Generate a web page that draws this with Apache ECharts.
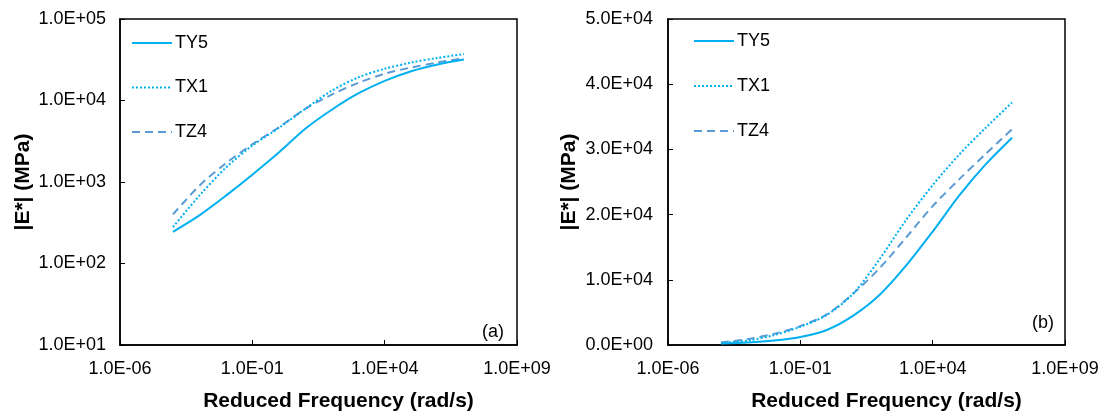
<!DOCTYPE html>
<html><head><meta charset="utf-8">
<script src="https://cdn.jsdelivr.net/npm/echarts@6/dist/echarts.min.js"></script>
<style>html,body{margin:0;padding:0;background:#fff}#c{width:1104px;height:417px}</style>
</head><body><div id="c"></div>
<script>
const freq = [1e-4, 1e-3, 1e-2, 1e-1, 1, 10, 100, 1e3, 1e4, 1e5, 1e6, 1e7];
const TY5 = [245, 390, 680, 1230, 2300, 4500, 7700, 12200, 17400, 22900, 27700, 31800];
const TX1 = [280, 680, 1500, 2800, 4600, 7900, 13200, 19200, 24500, 29200, 33300, 37200];
const TZ4 = [400, 900, 1700, 2900, 4700, 7900, 11800, 16500, 21300, 25400, 29300, 33100];
const seriesNames = ['TY5', 'TX1', 'TZ4'];
const xTickLabels = ['1.0E-06', '1.0E-01', '1.0E+04', '1.0E+09'];
const yTickLabelsLog = ['1.0E+01', '1.0E+02', '1.0E+03', '1.0E+04', '1.0E+05'];
const yTickLabelsLin = ['0.0E+00', '1.0E+04', '2.0E+04', '3.0E+04', '4.0E+04', '5.0E+04'];
const panelLabels = ['(a)', '(b)'];
const xTitle = 'Reduced Frequency (rad/s)';
const yTitle = '|E*| (MPa)';

const FONT = '"Liberation Sans", Arial, sans-serif';
const seriesValues = [TY5, TX1, TZ4];
const styles = [
  { color: '#00B0F0', type: 'solid' },
  { color: '#00B0F0', type: [2, 2] },
  { color: '#5B9BD5', type: [8, 5] }
];

const chart = echarts.init(document.getElementById('c'), null, { renderer: 'canvas' });

function xAxisFor(gridIndex) {
  return {
    gridIndex, type: 'log', logBase: 10, min: 1e-6, max: 1e9, interval: 5,
    name: xTitle, nameLocation: 'middle', nameGap: 46,
    nameTextStyle: { fontFamily: FONT, fontSize: 21, fontWeight: 'bold', color: '#000', padding: [0, 0, 0, 40] },
    axisLine: { show: true, lineStyle: { color: '#000', width: 1.5 } },
    axisTick: { show: true, inside: true, length: 5, lineStyle: { color: '#000', width: 1 } },
    minorTick: { show: false },
    splitLine: { show: false },
    axisLabel: { margin: 15, fontFamily: FONT, fontSize: 18, color: '#000',
      formatter: v => xTickLabels[Math.round((Math.log10(v) + 6) / 5)] }
  };
}

const option = {
  animation: false,
  backgroundColor: '#fff',
  grid: [
    { left: 120, top: 19, width: 397, height: 328, show: true, borderColor: '#000', borderWidth: 1.5, containLabel: false },
    { left: 668, top: 19, width: 397, height: 329, show: true, borderColor: '#000', borderWidth: 1.5, containLabel: false }
  ],
  xAxis: [xAxisFor(0), xAxisFor(1)],
  yAxis: [
    {
      gridIndex: 0, type: 'log', logBase: 10, min: 10, max: 1e5, interval: 1,
      name: yTitle, nameLocation: 'middle', nameGap: 86,
      nameTextStyle: { fontFamily: FONT, fontSize: 21, fontWeight: 'bold', color: '#000' },
      axisLine: { show: true, lineStyle: { color: '#000', width: 1.5 } },
      axisTick: { show: true, inside: true, length: 5, lineStyle: { color: '#000', width: 1 } },
      splitLine: { show: false },
      axisLabel: { margin: 14, fontFamily: FONT, fontSize: 18, color: '#000',
        formatter: v => yTickLabelsLog[Math.round(Math.log10(v)) - 1] }
    },
    {
      gridIndex: 1, type: 'value', min: 0, max: 50000, interval: 10000,
      name: yTitle, nameLocation: 'middle', nameGap: 88,
      nameTextStyle: { fontFamily: FONT, fontSize: 21, fontWeight: 'bold', color: '#000' },
      axisLine: { show: true, lineStyle: { color: '#000', width: 1.5 } },
      axisTick: { show: true, inside: true, length: 5, lineStyle: { color: '#000', width: 1 } },
      splitLine: { show: false },
      axisLabel: { margin: 15, fontFamily: FONT, fontSize: 18, color: '#000',
        formatter: v => yTickLabelsLin[Math.round(v / 10000)] }
    }
  ],
  legend: [
    { orient: 'vertical', left: 131, top: 34, padding: 0, itemWidth: 40, itemHeight: 14, itemGap: 26.5,
      data: seriesNames, selectedMode: false, itemStyle: { opacity: 0 },
      textStyle: { fontFamily: FONT, fontSize: 18, color: '#000', padding: [0, 0, 0, -2] } },
    { orient: 'vertical', left: 693, top: 32, padding: 0, itemWidth: 40, itemHeight: 14, itemGap: 27,
      data: seriesNames, selectedMode: false, itemStyle: { opacity: 0 },
      textStyle: { fontFamily: FONT, fontSize: 18, color: '#000', padding: [0, 0, 0, -2] } }
  ],
  graphic: [
    { type: 'text', left: 482, top: 323, style: { text: panelLabels[0], font: '18px ' + FONT, fill: '#000' } },
    { type: 'text', left: 1032, top: 314, style: { text: panelLabels[1], font: '18px ' + FONT, fill: '#000' } }
  ],
  series: []
};

[0, 1].forEach(g => {
  seriesNames.forEach((name, i) => {
    option.series.push({
      name, type: 'line', xAxisIndex: g, yAxisIndex: g,
      data: freq.map((f, k) => [f, seriesValues[i][k]]),
      smooth: 0.3,
      symbol: 'none', showSymbol: false,
      color: styles[i].color,
      lineStyle: { color: styles[i].color, width: 2, type: styles[i].type },
      z: 3 - i
    });
  });
});

chart.setOption(option);
</script>
</body></html>
